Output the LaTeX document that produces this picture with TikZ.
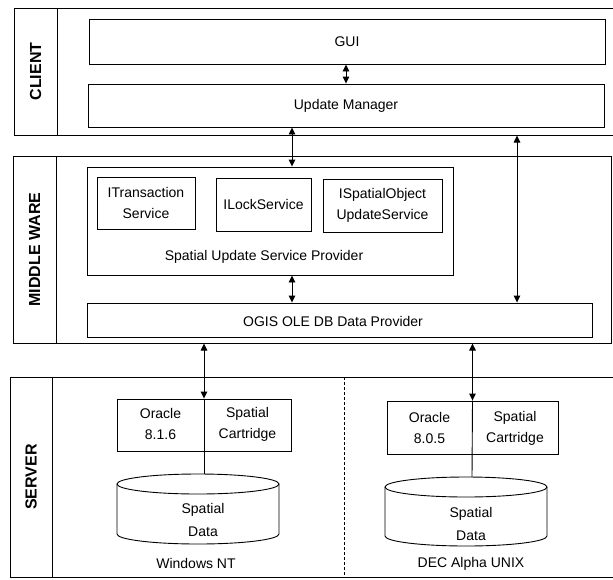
\documentclass[tikz,border=0pt]{standalone}
\usepackage{fontspec}
\setmainfont{Liberation Sans}
\usetikzlibrary{arrows.meta,calc}
\begin{document}
\begin{tikzpicture}[x=1pt,y=-1pt,
  every node/.style={font=\fontsize{14}{21}\selectfont, inner sep=0pt},
  box/.style={draw, line width=0.9pt, rectangle, align=center},
  band/.style={draw, line width=1pt, rectangle},
  lab/.style={rotate=90, font=\bfseries\fontsize{16}{19}\selectfont},
  txt/.style={align=center},
  arr/.style={line width=0.9pt, {Triangle[length=7pt,width=6.5pt]}-{Triangle[length=7pt,width=6.5pt]}},
  conn/.style={line width=0.9pt},
  cyl/.style={line width=0.9pt},
  sep/.style={line width=0.7pt, dash pattern=on 3pt off 2pt}
]
\useasboundingbox (0,0) rectangle (613,579);

% ---------- bands ----------
\node[band, minimum width=600, minimum height=127] (client) at (314,71.5) {};
\draw[band] (57,8) -- (57,135);
\node[lab] (clientlab) at (35.5,71.5) {CLIENT};

\node[band, minimum width=598, minimum height=187] (middle) at (312,249.5) {};
\draw[band] (56,156) -- (56,343);
\node[lab] (middlelab) at (34.5,249.5) {MIDDLE WARE};

\node[band, minimum width=605, minimum height=200] (server) at (312.5,477) {};
\draw[band] (52,377) -- (52,577);
\node[lab] (serverlab) at (31,477) {SERVER};
\draw[sep] (344,377) -- (344,577);

% ---------- client ----------
\node[box, minimum width=516, minimum height=45] (gui) at (347,41.5) {GUI};
\node[box, minimum width=516, minimum height=43] (um) at (346,105.5) {Update Manager};

% ---------- middle ware ----------
\node[box, minimum width=366, minimum height=108] (susp) at (270,221) {};
\node[txt] (susplab) at (264,257) {Spatial Update Service Provider};
\node[box, minimum width=98, minimum height=52] (itrans) at (146,203) {ITransaction\\Service};
\node[box, minimum width=95, minimum height=53] (ilock) at (263.5,204.5) {ILockService};
\node[box, minimum width=119, minimum height=53] (ispatial) at (382.5,205.5) {ISpatialObject\\UpdateService};
\node[box, minimum width=505, minimum height=34] (ogis) at (339.5,320) {};
\node[txt] (ogislab) at (333,321) {OGIS OLE DB Data Provider};

% ---------- server ----------
\node[box, minimum width=174, minimum height=52] (ora1) at (204,425) {};
\node[txt] (ora1a) at (160.5,424) {Oracle\\8.1.6};
\node[txt] (ora1b) at (247.5,424) {Spatial\\Cartridge};
\node[box, minimum width=171, minimum height=53] (ora2) at (472.5,427.5) {};
\node[txt] (ora2a) at (429.5,428) {Oracle\\8.0.5};
\node[txt] (ora2b) at (515,428) {Spatial\\Cartridge};

% cylinders
\draw[cyl] (117,484) -- (117,534) arc[start angle=180, end angle=0, x radius=81, y radius=10] -- (279,484);
\draw[cyl] (198,484) ellipse [x radius=81, y radius=10];
\coordinate (cyl1top) at (204,474);
\node[txt, font=\fontsize{14}{23}\selectfont] (cyl1) at (203,519.5) {Spatial\\Data};
\node[txt] (win) at (196,563) {Windows NT};

\draw[cyl] (385,487) -- (385,536) arc[start angle=180, end angle=0, x radius=81, y radius=10] -- (547,487);
\draw[cyl] (466,487) ellipse [x radius=81, y radius=10];
\coordinate (cyl2top) at (472,477.2);
\node[txt, font=\fontsize{14}{23}\selectfont] (cyl2) at (471,523.5) {Spatial\\Data};
\node[txt] (dec) at (471,564) {DEC Alpha UNIX};

% ---------- connectors ----------
\coordinate (xa) at (292,0);
\coordinate (xb) at (517,0);
\draw[arr] (um.north |- gui.south) -- (um.north);
\draw[arr] (um.south -| xa) -- (susp.north -| xa);
\draw[arr] (client.south -| xb) -- (ogis.north -| xb);
\draw[arr] (susp.south -| xa) -- (ogis.north -| xa);
\draw[arr] (middle.south -| ora1.north) -- (ora1.north);
\draw[arr] (middle.south -| ora2.north) -- (ora2.north);
\draw[conn] (ora1.north) -- (cyl1top);
\draw[conn] (ora2.north) -- (cyl2top);
\end{tikzpicture}
\end{document}
